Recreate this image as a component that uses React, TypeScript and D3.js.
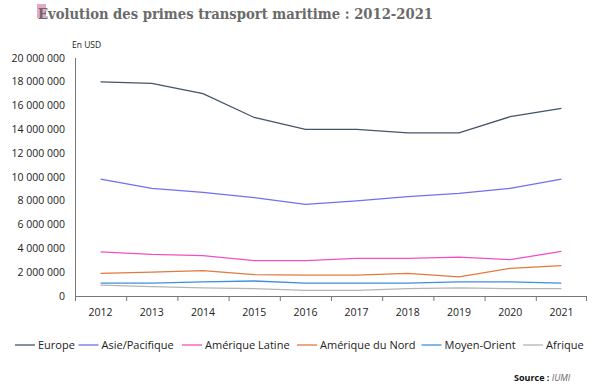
import React from "react";
import * as d3 from "d3";

const years = ["2012", "2013", "2014", "2015", "2016", "2017", "2018", "2019", "2020", "2021"];
const europe = [18.0, 17.87, 17.0, 15.0, 14.0, 14.0, 13.7, 13.7, 15.07, 15.77];
const asie = [9.83, 9.05, 8.71, 8.26, 7.7, 8.0, 8.35, 8.63, 9.05, 9.83];
const ameriqueLatine = [3.7, 3.49, 3.4, 2.97, 2.97, 3.17, 3.17, 3.26, 3.05, 3.75];
const ameriqueNord = [1.9, 2.0, 2.13, 1.8, 1.75, 1.75, 1.9, 1.6, 2.33, 2.56];
const moyenOrient = [1.08, 1.08, 1.18, 1.26, 1.08, 1.08, 1.08, 1.18, 1.18, 1.08];
const afrique = [0.91, 0.79, 0.68, 0.62, 0.48, 0.48, 0.62, 0.68, 0.62, 0.62];
const seriesNames = ["Europe", "Asie/Pacifique", "Amérique Latine", "Amérique du Nord", "Moyen-Orient", "Afrique"];
const yTicks = [0, 2, 4, 6, 8, 10, 12, 14, 16, 18, 20];

const colors = ["#44546a", "#7070ee", "#f24fc4", "#e2793f", "#3c90dc", "#b4b4b4"];
const seriesValues = [europe, asie, ameriqueLatine, ameriqueNord, moyenOrient, afrique];

const fmt = (v: number) => {
  const n = Math.round(v * 1e6);
  if (n === 0) return "0";
  return String(n).replace(/\B(?=(\d{3})+(?!\d))/g, " ");
};

export default function App() {
  const x = d3.scaleBand<string>().domain(years).range([75, 587]);
  const y = d3.scaleLinear().domain([0, 20]).range([296, 58]);
  const line = d3
    .line<number>()
    .x((_, i) => (x(years[i]) as number) + x.bandwidth() / 2)
    .y((d) => y(d));
  const font = "'Open Sans', 'DejaVu Sans', sans-serif";
  const legendX = [15, 78.5, 182, 297, 421.5, 523];

  return (
    <svg width={600} height={391} style={{ position: "absolute", left: 0, top: 0, background: "#fff" }}>
      <rect x={37} y={4} width={9} height={14} fill="#e3a9c8" />
      <text
        x={38}
        y={19}
        fontFamily="'DejaVu Serif', serif"
        fontWeight="bold"
        fontSize={15.5}
        fill="#6a6a6a"
        textLength={395}
        lengthAdjust="spacingAndGlyphs"
      >
        Evolution des primes transport maritime : 2012-2021
      </text>
      <text x={72} y={48} fontFamily={font} fontSize={8.5} fill="#222">
        En USD
      </text>
      {yTicks.map((t) => (
        <text key={t} x={65} y={y(t)} dy="0.35em" textAnchor="end" fontFamily={font} fontSize={10.5} fill="#222">
          {fmt(t)}
        </text>
      ))}
      <line x1={75.5} x2={75.5} y1={58} y2={296} stroke="#777" strokeWidth={1} />
      <line x1={75} x2={587} y1={296.5} y2={296.5} stroke="#777" strokeWidth={1} />
      {years.map((yr) => (
        <line key={"t" + yr} x1={(x(yr) as number) + 0.5} x2={(x(yr) as number) + 0.5} y1={296} y2={301} stroke="#777" />
      ))}
      <line x1={586.5} x2={586.5} y1={296} y2={301} stroke="#777" />
      {years.map((yr) => (
        <text
          key={yr}
          x={(x(yr) as number) + x.bandwidth() / 2}
          y={316}
          textAnchor="middle"
          fontFamily={font}
          fontSize={10.5}
          fill="#222"
        >
          {yr}
        </text>
      ))}
      {seriesValues.map((vals, i) => (
        <path key={seriesNames[i]} d={line(vals) || ""} fill="none" stroke={colors[i]} strokeWidth={1.3} />
      ))}
      {seriesNames.map((name, i) => (
        <g key={"lg" + name}>
          <line x1={legendX[i]} x2={legendX[i] + 20} y1={345} y2={345} stroke={colors[i]} strokeWidth={1.3} />
          <text x={legendX[i] + 23} y={345} dy="0.35em" fontFamily={font} fontSize={11} fill="#222">
            {name}
          </text>
        </g>
      ))}
      <text x={514} y={381} fontFamily={font} fontSize={9} fill="#111">
        <tspan fontWeight="bold">Source : </tspan>
        <tspan fontStyle="italic" fill="#666">IUMI</tspan>
      </text>
    </svg>
  );
}
